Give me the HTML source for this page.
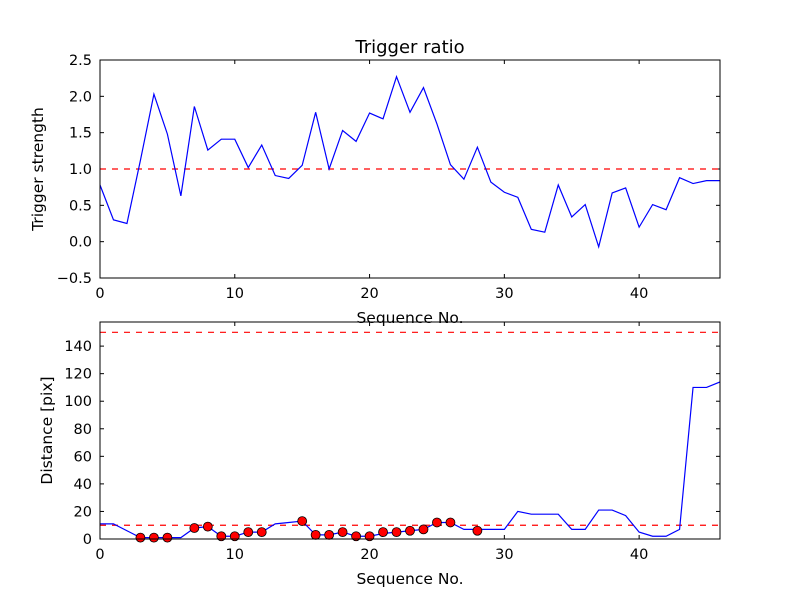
<!DOCTYPE html>
<html><head><meta charset="utf-8"><style>
body{margin:0;background:#fff;}
svg{font-family:"DejaVu Sans","Liberation Sans",sans-serif;}
</style></head><body>
<svg id="c" width="800" height="600" xmlns="http://www.w3.org/2000/svg">
<rect width="800" height="600" fill="#fff"/>
</svg>
<script>
const xs = [0,1,2,3,4,5,6,7,8,9,10,11,12,13,14,15,16,17,18,19,20,21,22,23,24,25,26,27,28,29,30,31,32,33,34,35,36,37,38,39,40,41,42,43,44,45,46];
const ratio = [0.78,0.3,0.25,1.12,2.03,1.48,0.63,1.86,1.26,1.41,1.41,1.02,1.33,0.91,0.87,1.05,1.78,1.0,1.53,1.38,1.77,1.69,2.27,1.78,2.12,1.62,1.06,0.86,1.3,0.82,0.68,0.61,0.17,0.13,0.78,0.34,0.51,-0.07,0.67,0.74,0.2,0.51,0.44,0.88,0.8,0.84,0.84];
const dist = [11,11,6,1,1,1,1,8,9,2,2,5,5,11,12,13,3,3,5,2,2,4,5,6,7,12,12,7,7,7,7,20,18,18,18,7,7,21,21,17,5,2,2,7,110,110,114];
const markerIdx = [3,4,5,7,8,9,10,11,12,15,16,17,18,19,20,21,22,23,24,25,26,28];
const markerVals = [1,1,1,8,9,2,2,5,5,13,3,3,5,2,2,5,5,6,7,12,12,6];
const topTicks = [-0.5,0.0,0.5,1.0,1.5,2.0,2.5];
const botTicks = [0,20,40,60,80,100,120,140];
const xTicks = [0,10,20,30,40];
const ratioThreshold = 1.0;
const distThresholds = [150,10];

const svg = document.getElementById('c');
const NS = 'http://www.w3.org/2000/svg';
function mk(tag, attrs, parent){const e=document.createElementNS(NS,tag);for(const k in attrs)e.setAttribute(k,attrs[k]);(parent||svg).appendChild(e);return e;}
const L=100,R=720;
const sx = v => L + (v-0)/(46-0)*(R-L);
const T1=60,B1=278, sy1 = v => B1 - (v+0.5)/3*(B1-T1);
const T2=322,B2=539, sy2 = v => B2 - v/157.5*(B2-T2);

function axes(T,B,ticks,sy,fmt,name,ylabel,title){
  const g=mk('g',{});
  
  
  ticks.forEach(t=>{const y=sy(t);
    mk('line',{x1:L,x2:L+4,y1:y,y2:y,stroke:'#000'},g);mk('line',{x1:R,x2:R-4,y1:y,y2:y,stroke:'#000'},g);
    const tx=mk('text',{x:L-8,y:y+5,'text-anchor':'end','font-size':14.5},g);tx.textContent=fmt(t);
    
    });
  xTicks.forEach(t=>{const x=sx(t);
    mk('line',{x1:x,x2:x,y1:B,y2:B-4,stroke:'#000'},g);mk('line',{x1:x,x2:x,y1:T,y2:T+4,stroke:'#000'},g);
    const tx=mk('text',{x:x,y:B+20,'text-anchor':'middle','font-size':14.5},g);tx.textContent=t;
    
    });
  const xl=mk('text',{x:(L+R)/2,y:B+45,'text-anchor':'middle','font-size':15.5},g);xl.textContent='Sequence No.';
  
  
  const yl=mk('text',{x:0,y:0,'text-anchor':'middle','font-size':15.5,transform:`translate(${name==='top-axes'?43:52},${(T+B)/2}) rotate(-90)`},g);yl.textContent=ylabel;
  
  
  if(title){const tt=mk('text',{x:(L+R)/2,y:T-7,'text-anchor':'middle','font-size':18},g);tt.textContent=title;
    
    }
}
function frame(T,B){const r=mk('rect',{x:L,y:T,width:R-L,height:B-T,fill:'none',stroke:'#000','stroke-width':1});
  
  }

axes(T1,B1,topTicks,sy1,t=>t.toFixed(1).replace('-','\u2212'),'top-axes','Trigger strength','Trigger ratio');
let ln=mk('line',{x1:L,x2:R,y1:sy1(ratioThreshold),y2:sy1(ratioThreshold),stroke:'#f00','stroke-dasharray':'6,6','stroke-width':1.2});


let p=mk('polyline',{points:xs.map((x,i)=>sx(x)+','+sy1(ratio[i])).join(' '),fill:'none',stroke:'#00f','stroke-width':1.2});


frame(T1,B1);

axes(T2,B2,botTicks,sy2,t=>String(t),'bottom-axes','Distance [pix]',null);
distThresholds.forEach(v=>{const l=mk('line',{x1:L,x2:R,y1:sy2(v),y2:sy2(v),stroke:'#f00','stroke-dasharray':'6,6','stroke-width':1.2});
  
  });
const cp=mk('clipPath',{id:'cl'});mk('rect',{x:L,y:T2,width:R-L,height:B2-T2},cp);
p=mk('polyline',{points:xs.map((x,i)=>sx(x)+','+sy2(dist[i])).join(' '),fill:'none',stroke:'#00f','stroke-width':1.2,'clip-path':'url(#cl)'});


markerIdx.forEach((x,i)=>{const c=mk('circle',{cx:sx(x),cy:sy2(markerVals[i]),r:4.5,fill:'#f00',stroke:'#000','stroke-width':0.8});
  
  });
frame(T2,B2);
</script>
</body></html>
